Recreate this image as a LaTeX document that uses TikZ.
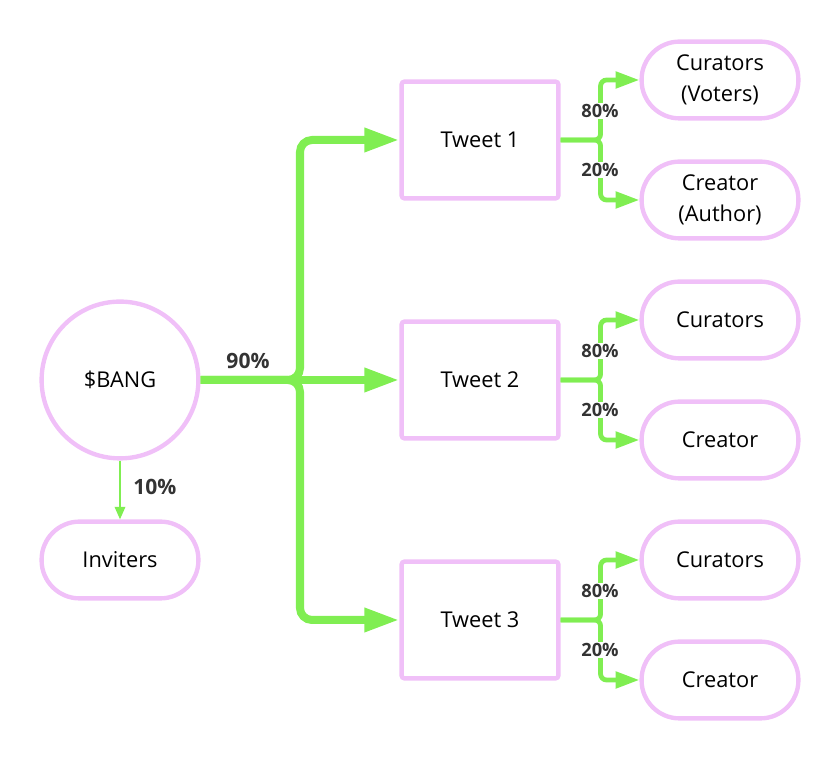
\documentclass[tikz,border=0pt]{standalone}
\usepackage{fontspec}
\setmainfont{Open Sans}
\usepackage{tikz}
\usetikzlibrary{arrows.meta}
\usetikzlibrary{positioning}

\definecolor{pinkline}{RGB}{240,192,248}
\definecolor{flowgreen}{RGB}{128,238,82}
\definecolor{labelgray}{RGB}{51,51,51}

\tikzset{
  token/.style={circle, draw=pinkline, line width=3.1pt, minimum size=3.92cm, inner sep=0pt, font=\fontsize{15.5}{22.5}\selectfont},
  pill/.style={rectangle, rounded corners=0.95cm, draw=pinkline, line width=3.1pt, minimum width=3.92cm, minimum height=1.92cm, inner sep=0pt, align=center, font=\fontsize{15.5}{22.5}\selectfont},
  tweetbox/.style={rectangle, rounded corners=2pt, draw=pinkline, line width=3.1pt, minimum width=3.92cm, minimum height=2.92cm, inner sep=0pt, font=\fontsize{15.5}{22.5}\selectfont},
  bigflow/.style={draw=flowgreen, line width=5.7pt, rounded corners=0.3cm, -{Triangle[length=25pt, width=16pt]}},
  splitflow/.style={draw=flowgreen, line width=3.4pt, rounded corners=0.15cm, -{Triangle[length=17pt, width=11.5pt]}},
  thinflow/.style={draw=flowgreen, line width=1.4pt, -{Triangle[length=9pt, width=7.5pt]}},
  share/.style={font=\bfseries\fontsize{15}{17}\selectfont, text=labelgray},
  splitshare/.style={font=\bfseries\fontsize{13}{15}\selectfont, text=labelgray, fill=white, inner sep=1pt}
}

\begin{document}
\begin{tikzpicture}

\useasboundingbox (0, 0) rectangle (21, 19);

\node[token] (bang) at (3, 9.5) {\$BANG};
\node[pill] (inviters) at (3, 5) {Inviters};

\node[tweetbox] (tw1) at (12, 15.5) {Tweet 1};
\node[tweetbox] (tw2) at (12, 9.5) {Tweet 2};
\node[tweetbox] (tw3) at (12, 3.5) {Tweet 3};

\node[pill] (cur1) at (18, 17) {Curators\\(Voters)};
\node[pill] (cre1) at (18, 14) {Creator\\(Author)};
\node[pill] (cur2) at (18, 11) {Curators};
\node[pill] (cre2) at (18, 8) {Creator};
\node[pill] (cur3) at (18, 5) {Curators};
\node[pill] (cre3) at (18, 2) {Creator};

\coordinate (fork) at (7.5, 9.5);

\draw[bigflow] (bang.east) -- (fork) |- (tw1.west);
\draw[bigflow] (bang.east) -- (fork) |- (tw3.west);
\draw[bigflow] (bang.east) -- (tw2.west);

\draw[thinflow] (bang.south) -- (inviters.north);

\node[share] (p90) at (6.2, 9.97) {90\%};
\node[share] (p10) at (3.87, 6.82) {10\%};

\draw[splitflow] (tw1.east) -- ++(1, 0) |- (cur1.west);
\draw[splitflow] (tw1.east) -- ++(1, 0) |- (cre1.west);
\draw[splitflow] (tw2.east) -- ++(1, 0) |- (cur2.west);
\draw[splitflow] (tw2.east) -- ++(1, 0) |- (cre2.west);
\draw[splitflow] (tw3.east) -- ++(1, 0) |- (cur3.west);
\draw[splitflow] (tw3.east) -- ++(1, 0) |- (cre3.west);

\node[splitshare] (p80a) at (15, 16.23) {80\%};
\node[splitshare] (p20a) at (15, 14.75) {20\%};
\node[splitshare] (p80b) at (15, 10.23) {80\%};
\node[splitshare] (p20b) at (15, 8.75) {20\%};
\node[splitshare] (p80c) at (15, 4.23) {80\%};
\node[splitshare] (p20c) at (15, 2.75) {20\%};

\end{tikzpicture}
\end{document}
